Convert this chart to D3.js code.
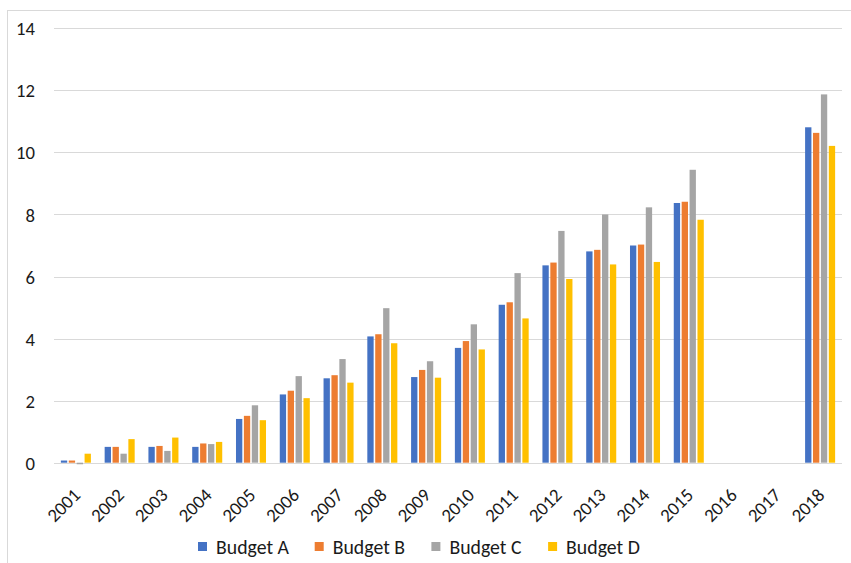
<!DOCTYPE html>
<html>
<head>
<meta charset="utf-8">
<script src="https://cdn.jsdelivr.net/npm/d3@7"></script>
<style>
  html, body { margin: 0; padding: 0; background: #fff; }
  svg { display: block; }
  text { font-family: Carlito, Calibri, Lato, sans-serif; fill: #1a1a1a; }
</style>
</head>
<body>
<svg id="chart" width="851" height="563"></svg>
<script>
// Fiscal years on the category axis
const years = ["2001","2002","2003","2004","2005","2006","2007","2008","2009",
               "2010","2011","2012","2013","2014","2015","2016","2017","2018"];

// Series names
const seriesNames = ["Budget A", "Budget B", "Budget C", "Budget D"];

// Values per series (null = no data for that year)
const budgetA = [0.07, 0.51, 0.51, 0.51, 1.41, 2.20, 2.72, 4.07, 2.76, 3.70, 5.09, 6.36, 6.81, 7.00, 8.37, null, null, 10.81];
const budgetB = [0.07, 0.51, 0.54, 0.62, 1.51, 2.32, 2.82, 4.14, 2.99, 3.92, 5.17, 6.45, 6.86, 7.03, 8.41, null, null, 10.63];
const budgetC = [-0.05, 0.29, 0.38, 0.60, 1.85, 2.79, 3.34, 4.98, 3.27, 4.46, 6.11, 7.47, 8.00, 8.23, 9.44, null, null, 11.87];
const budgetD = [0.29, 0.76, 0.81, 0.67, 1.37, 2.08, 2.58, 3.85, 2.74, 3.65, 4.65, 5.92, 6.39, 6.47, 7.83, null, null, 10.21];

// Value-axis ticks
const yTicks = [0, 2, 4, 6, 8, 10, 12, 14];

const seriesValues = [budgetA, budgetB, budgetC, budgetD];
const colors = ["#4472C4", "#ED7D31", "#A5A5A5", "#FFC000"];

const svg = d3.select("#chart");
const FONT = "Carlito, Calibri, Lato, sans-serif";

// Chart-area outline
svg.append("rect")
  .attr("x", 7.5).attr("y", 10.5)
  .attr("width", 900).attr("height", 600)
  .attr("fill", "none")
  .attr("stroke", "#d9d9d9")
  .attr("stroke-width", 1);

const plot = { left: 54, right: 842, top: 28.3, bottom: 462.7 };

const y = d3.scaleLinear()
  .domain([0, 14])
  .range([plot.bottom, plot.top]);

const x0 = d3.scaleBand()
  .domain(years)
  .range([plot.left, plot.right])
  .paddingInner(0)
  .paddingOuter(0);

const groupWidth = x0.bandwidth() * 0.722;
const x1 = d3.scaleBand()
  .domain(seriesNames)
  .range([(x0.bandwidth() - groupWidth) / 2, (x0.bandwidth() + groupWidth) / 2])
  .paddingInner(0.2)
  .paddingOuter(0.1);

const color = d3.scaleOrdinal().domain(seriesNames).range(colors);

// Horizontal gridlines
svg.append("g")
  .selectAll("line")
  .data(yTicks)
  .join("line")
  .attr("x1", plot.left)
  .attr("x2", plot.right)
  .attr("y1", d => Math.round(y(d)) + 0.5)
  .attr("y2", d => Math.round(y(d)) + 0.5)
  .attr("stroke", "#d9d9d9")
  .attr("stroke-width", 1);

// Value-axis labels
const yAxis = d3.axisLeft(y).tickValues(yTicks).tickSize(0).tickPadding(0);
const yAxisG = svg.append("g")
  .attr("transform", `translate(35,0)`)
  .call(yAxis);
yAxisG.select(".domain").remove();
yAxisG.selectAll("text")
  .attr("font-size", 18.7)
  .attr("dy", "0.35em")
  .attr("fill", "#1a1a1a")
  .style("font-family", FONT);

// Bars
const rows = years.map((yr, i) => ({
  year: yr,
  values: seriesNames.map((s, k) => ({ series: s, value: seriesValues[k][i] }))
}));

svg.append("g")
  .selectAll("g")
  .data(rows)
  .join("g")
  .attr("transform", d => `translate(${x0(d.year)},0)`)
  .selectAll("rect")
  .data(d => d.values.filter(v => v.value !== null))
  .join("rect")
  .attr("x", d => x1(d.series))
  .attr("width", x1.bandwidth())
  .attr("y", d => y(Math.max(0, d.value)))
  .attr("height", d => Math.abs(y(d.value) - y(0)))
  .attr("fill", d => color(d.series));

// Category-axis labels, rotated
const xAxis = d3.axisBottom(x0).tickSize(0).tickPadding(0);
const xAxisG = svg.append("g")
  .attr("transform", `translate(0,${plot.bottom})`)
  .call(xAxis);
xAxisG.select(".domain").remove();
xAxisG.selectAll(".tick text")
  .attr("font-size", 18.7)
  .attr("fill", "#1a1a1a")
  .style("font-family", FONT)
  .attr("text-anchor", "end")
  .attr("dy", "0.35em")
  .attr("y", 0)
  .attr("transform", "translate(1,29) rotate(-45)");

// Legend
const legendX = d3.scaleBand()
  .domain(seriesNames)
  .range([198, 198 + 4 * 116.7]);

const legend = svg.append("g")
  .selectAll("g")
  .data(seriesNames)
  .join("g")
  .attr("transform", d => `translate(${legendX(d)},0)`);

legend.append("rect")
  .attr("x", 0).attr("y", 542)
  .attr("width", 9).attr("height", 9)
  .attr("fill", d => color(d));

legend.append("text")
  .attr("x", 18)
  .attr("y", 554)
  .attr("font-size", 19.8)
  .text(d => d);
</script>
</body>
</html>
